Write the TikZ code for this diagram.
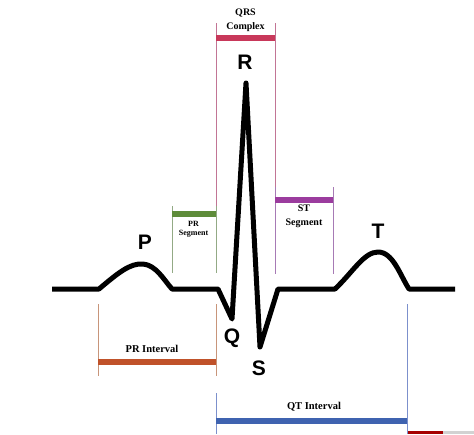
\documentclass[tikz,border=0pt]{standalone}
\usepackage{fontspec}
\setmainfont{Liberation Serif}
\setsansfont{Liberation Sans}
\usetikzlibrary{calc, positioning}

\definecolor{qrsbar}{HTML}{C8385A}
\definecolor{qrsline}{HTML}{C27595}
\definecolor{prsbar}{HTML}{5E8C3A}
\definecolor{prsline}{HTML}{93AA85}
\definecolor{stbar}{HTML}{9B3C9E}
\definecolor{stline}{HTML}{A77AB5}
\definecolor{pribar}{HTML}{C0522A}
\definecolor{priline}{HTML}{C8957A}
\definecolor{qtbar}{HTML}{3F63B0}
\definecolor{qtline}{HTML}{7C90CC}

\begin{document}
\begin{tikzpicture}[x=1pt, y=-1pt,
    wave/.style={line width=5pt, line join=round},
    guide/.style={line width=0.9pt},
    bar/.style={line width=6pt},
    wavelabel/.style={font=\sffamily\bfseries\fontsize{21}{21}\selectfont, inner sep=0pt},
    barlabel/.style={font=\bfseries, align=center, inner sep=0pt}]

    \useasboundingbox (0,0) rectangle (474,434);

    % points of the trace
    \coordinate (start) at (52,289);
    \coordinate (pOn)   at (99,289);
    \coordinate (pTop)  at (143,264);
    \coordinate (pOff)  at (172,289);
    \coordinate (qOn)   at (218,289);
    \coordinate (qTip)  at (232,319);
    \coordinate (rTip)  at (246,83);
    \coordinate (sTip)  at (260,347);
    \coordinate (sOff)  at (278,289);
    \coordinate (tOn)   at (335,289);
    \coordinate (tTop)  at (378,252);
    \coordinate (tOff)  at (409,289);
    \coordinate (end)   at (455,289);

    \draw [wave] (start) -- (pOn)
        .. controls (118,273) and (130,263) .. (pTop)
        .. controls (156,265) and (164,280) .. (pOff)
        -- (qOn) -- (qTip) -- (rTip) -- (sTip) -- (sOff) -- (tOn)
        .. controls (353,272) and (364,252) .. (tTop)
        .. controls (393,252) and (400,275) .. (tOff)
        -- (end);

    \node [wavelabel] (P) at (145,242) {P};
    \node [wavelabel] (Q) at (232,338) {Q};
    \node [wavelabel] (R) at (245,62)  {R};
    \node [wavelabel] (S) at (259,368) {S};
    \node [wavelabel] (T) at (378,231) {T};

    % QRS complex
    \draw [guide, qrsline] (216,23) -- (216,206);
    \draw [guide, qrsline] (275,23) -- (275,190);
    \draw [bar, qrsbar] (216,37.5) -- (275,37.5);
    \node [barlabel, font=\bfseries\fontsize{10}{13.5}\selectfont] (qrs) at (245.5,20.5) {QRS\\Complex};

    % PR segment
    \draw [guide, prsline] (172,206) -- (172,273);
    \draw [guide, prsline] (216,206) -- (216,273);
    \draw [bar, prsbar] (172,214) -- (216,214);
    \node [barlabel, font=\bfseries\fontsize{8}{9}\selectfont] (prseg) at (193.5,229) {PR\\Segment};

    % ST segment
    \draw [guide, stline] (275,187) -- (275,274);
    \draw [guide, stline] (333,187) -- (333,274);
    \draw [bar, stbar] (275,200) -- (333,200);
    \node [barlabel, font=\bfseries\fontsize{10}{13.5}\selectfont] (stseg) at (304,216.5) {ST\\Segment};

    % PR interval
    \draw [guide, priline] (98,304) -- (98,376);
    \draw [guide, priline] (216,304) -- (216,376);
    \draw [bar, pribar] (98,361.5) -- (216,361.5);
    \node [barlabel, font=\bfseries\fontsize{10.5}{11}\selectfont] (print) at (152,349) {PR Interval};

    % QT interval
    \draw [guide, qtline] (216,393) -- (216,434);
    \draw [guide, qtline] (407,304) -- (407,434);
    \draw [bar, qtbar] (216,421) -- (407,421);
    \node [barlabel, font=\bfseries\fontsize{10.5}{11}\selectfont] (qtint) at (314,407) {QT Interval};

    \fill [red!65!black] (408,431) rectangle (443,434);
    \fill [gray!35] (443,431) rectangle (474,434);

\end{tikzpicture}
\end{document}
